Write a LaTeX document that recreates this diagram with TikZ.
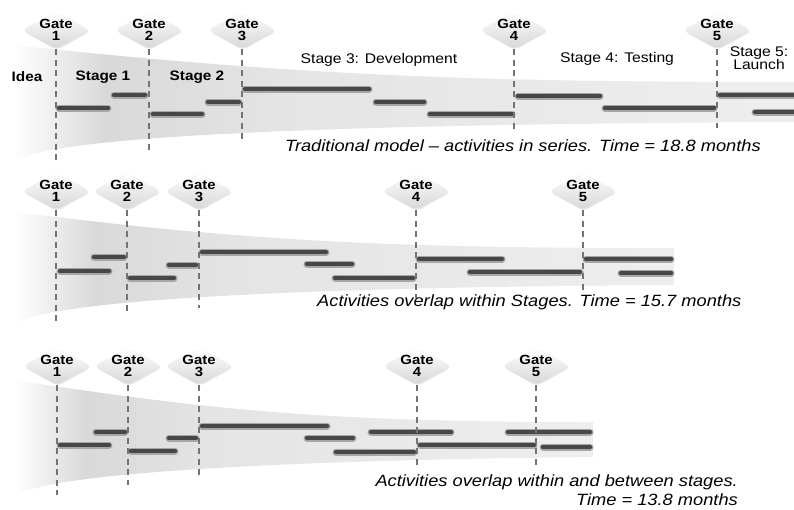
\documentclass[tikz,border=0pt]{standalone}
\usepackage{fontspec}
\setmainfont{Liberation Sans}[FakeStretch=1.12]
\usetikzlibrary{shapes.geometric,shadows}

\pgfdeclarehorizontalshading{entonnoir}{100bp}{color(0bp)=(white); color(25bp)=(white); color(31bp)=(gray!30); color(42bp)=(gray!21); color(75bp)=(gray!13); color(100bp)=(gray!13)}

\tikzset{
	gatebox/.style={diamond, minimum width=68pt, minimum height=38pt, inner sep=0pt, rounded corners=5pt, top color=white, bottom color=gray!32, drop shadow={opacity=0.2, shadow xshift=0.8pt, shadow yshift=-1.2pt}},
	gatetxt/.style={align=center, font=\bfseries\fontsize{13.3}{12.5}\selectfont, inner sep=0pt},
	gateline/.style={draw=black!55, line width=1.4pt, dash pattern=on 6pt off 4.5pt},
	barre/.style={draw=black!72, line width=4.5pt, line cap=round, preaction={draw=black!35, line width=7pt, line cap=round}},
	etape/.style={font=\bfseries\fontsize{13.7}{14}\selectfont, inner sep=0pt},
	phase/.style={font=\fontsize{14}{13.5}\selectfont, align=center, inner sep=0pt},
	legende/.style={font=\itshape\fontsize{16.3}{18.5}\selectfont, inner sep=0pt}
}

\begin{document}
\begin{tikzpicture}[x=1pt, y=-1pt]
	\useasboundingbox (0,0) rectangle (794,509);
	
	% Entonnoirs
	\shade[shading=entonnoir] (13,45) .. controls (300,76) and (480,82) .. (794,82) -- (794,122) .. controls (350,124) and (40,135) .. (13,163) -- cycle;
	\shade[shading=entonnoir] (15,212) .. controls (260,243) and (410,248) .. (674,248) -- (674,285) .. controls (300,287) and (40,300) .. (15,325) -- cycle;
	\shade[shading=entonnoir] (15,380) .. controls (230,414) and (360,422) .. (593,422) -- (593,457) .. controls (300,460) and (40,472) .. (15,497) -- cycle;
	
	% Activités
	\foreach \a/\b/\y in {56/111/108, 111/148/95, 150/205/114, 205/242/102, 242/372/89, 373/427/102, 427/515/114, 515/603/96, 602/717/108, 717/797/95, 752/797/112,
		57/112/271, 91/127/257, 127/177/278, 166/199/265, 199/329/252, 304/355/264, 332/416/278, 416/505/259, 467/583/272, 583/674/259, 618/674/273,
		57/112/445, 93/128/432, 128/178/451, 166/199/438, 199/330/426, 304/356/438, 333/417/452, 368/454/432, 417/537/445, 505/593/432, 540/593/447}
		\draw[barre] (\a+3,\y) -- (\b-3,\y);
	
	% Gates : modèle traditionnel
	\foreach \x/\e [count=\i] in {56/160, 149/150, 242/142, 514/132, 717/128} {
		\node[gatebox, label={[gatetxt]center:Gate\\\i}] (r1g\i) at (\x,30) {};
		\coordinate (r1e\i) at (\x,\e);
		\draw[gateline] (r1g\i.south) -- (r1e\i);
	}
	
	% Gates : chevauchement dans les étapes
	\foreach \x/\e [count=\i] in {56/325, 127/315, 199/308, 416/298, 583/293} {
		\node[gatebox, label={[gatetxt]center:Gate\\\i}] (r2g\i) at (\x,191) {};
		\coordinate (r2e\i) at (\x,\e);
		\draw[gateline] (r2g\i.south) -- (r2e\i);
	}
	
	% Gates : chevauchement entre les étapes
	\foreach \x/\e [count=\i] in {57/495, 128/485, 199/478, 417/467, 536/467} {
		\node[gatebox, label={[gatetxt]center:Gate\\\i}] (r3g\i) at (\x,366) {};
		\coordinate (r3e\i) at (\x,\e);
		\draw[gateline] (r3g\i.south) -- (r3e\i);
	}
	
	% Étapes
	\node[etape] (idee) at (27,77) {Idea};
	\node[etape] (etape1) at (103,77) {Stage 1};
	\node[etape] (etape2) at (197,77) {Stage 2};
	\node[phase] (etape3) at (379,60) {Stage 3: Development};
	\node[phase] (etape4) at (617,59) {Stage 4: Testing};
	\node[phase] (etape5) at (759,58) {Stage 5:\\Launch};
	
	% Légendes
	\node[legende, anchor=west] (leg1) at (285,146) {Traditional model – activities in series. Time = 18.8 months};
	\node[legende, anchor=west] (leg2) at (317,302) {Activities overlap within Stages. Time = 15.7 months};
	\node[legende, anchor=east, align=right] (leg3) at (738,490) {Activities overlap within and between stages.\\Time = 13.8 months};
\end{tikzpicture}
\end{document}
